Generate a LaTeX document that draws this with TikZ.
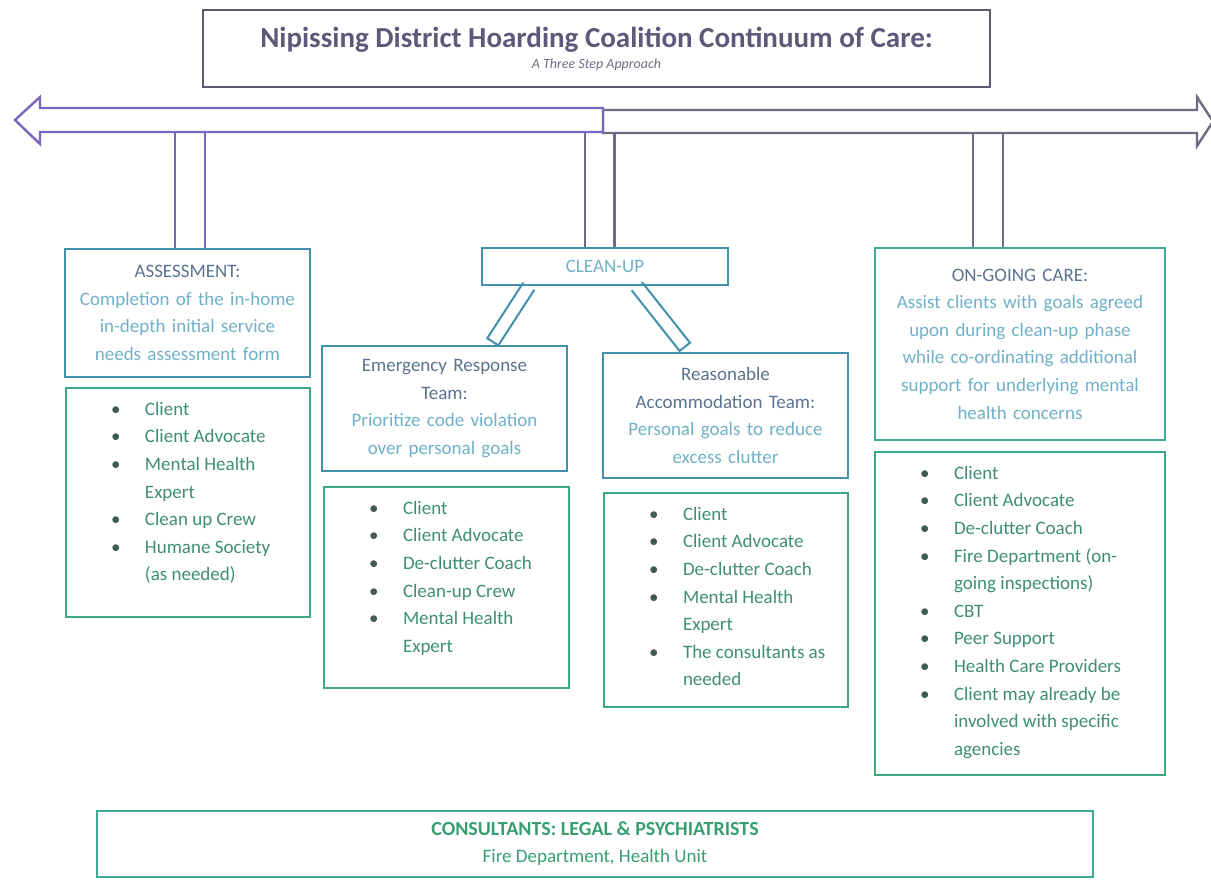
\documentclass[tikz,border=0pt]{standalone}
\usepackage{fontspec}
\setmainfont{Carlito}
\usetikzlibrary{calc, backgrounds}

\definecolor{titletext}{HTML}{5B5A78}
\definecolor{titleline}{HTML}{5E5A70}
\definecolor{subtext}{HTML}{6E6D80}
\definecolor{arrowpurple}{HTML}{7A66BE}
\definecolor{arrowgrey}{HTML}{6F6B82}
\definecolor{hdrline}{HTML}{4390AC}
\definecolor{hdrhead}{HTML}{5B7290}
\definecolor{hdrbody}{HTML}{6FB0C8}
\definecolor{careline}{HTML}{3DAA96}
\definecolor{listline}{HTML}{3DAA7E}
\definecolor{listgreen}{HTML}{3E8E72}
\definecolor{bulletcol}{HTML}{3E5A52}
\definecolor{consulttext}{HTML}{389E70}

% one bullet row of a team list
\newcommand{\bul}{\makebox[17pt][l]{\textcolor{bulletcol}{\textbullet}}}
% team list, top aligned inside a box of given width and height
\newcommand{\members}[3]{\parbox[c][#2][t]{#1}{\vspace*{4pt}\hspace*{22.5pt}%
  \begin{tabular}[t]{@{}l@{}l@{}}#3\end{tabular}}}

\tikzset{
  titlebox/.style={draw=titleline, line width=1.2pt, align=center, inner sep=0pt},
  hdrbox/.style={draw=hdrline, line width=1.2pt, align=center, inner sep=0pt,
    text=hdrbody, font=\fontsize{9.5}{13.8}\selectfont},
  listbox/.style={draw=listline, line width=1.2pt, inner sep=0pt,
    text=listgreen, font=\fontsize{9.5}{13.8}\selectfont},
  blockarrow/.style={line width=1.2pt, fill=white},
  bar/.style={line width=1.2pt, double=white, double distance=13.6pt},
  slantbar/.style={draw=hdrline, line width=1pt, fill=white, line join=miter}
}

\begin{document}
\begin{tikzpicture}[x=0.5pt, y=-0.5pt]
    \useasboundingbox (0,0) rectangle (1211,879);

    % Title
    \node[titlebox, minimum width=393.5pt, minimum height=38.5pt] (title) at (596.5,48.5)
      {\textcolor{titletext}{\fontsize{14.5}{14}\selectfont\bfseries Nipissing District Hoarding Coalition Continuum of Care:}\\[-1.5pt]
       \textcolor{subtext}{\fontsize{7}{8}\selectfont\itshape A Three Step Approach}};

    % Timeline arrows
    \draw[blockarrow, draw=arrowgrey] (603,110) -- (1197,110) -- (1197,97) -- (1213,121.5)
      -- (1197,146) -- (1197,133) -- (603,133) -- cycle;
    \draw[blockarrow, draw=arrowpurple] (603,108) -- (40,108) -- (40,97) -- (15,120)
      -- (40,144) -- (40,132) -- (603,132) -- cycle;
    \coordinate (stepA) at (190,124);
    \coordinate (stepB) at (599.5,124);
    \coordinate (stepC) at (988,124);

    % Step 1
    \node[hdrbox, text width=122.5pt, minimum height=64pt] (assess) at (187.5,313)
      {\textcolor{hdrhead}{ASSESSMENT:}\\Completion of the in-home\\in-depth initial service\\needs assessment form};
    \node[listbox] (assesslist) at (188,502.5)
      {\members{122pt}{114.5pt}{\bul & Client\\ \bul & Client Advocate\\ \bul & Mental Health\\ & Expert\\
        \bul & Clean up Crew\\ \bul & Humane Society\\ & (as needed)}};

    % Step 2
    \node[hdrbox, text width=123pt, minimum height=18.5pt] (cleanup) at (605,266.5) {CLEAN-UP};
    \node[hdrbox, text width=122.5pt, minimum height=62.5pt] (emerg) at (444.5,408.5)
      {\textcolor{hdrhead}{Emergency Response}\\\textcolor{hdrhead}{Team:}\\Prioritize code violation\\over personal goals};
    \node[listbox] (emerglist) at (446.5,587.5)
      {\members{122.5pt}{100.5pt}{\bul & Client\\ \bul & Client Advocate\\ \bul & De-clutter Coach\\
        \bul & Clean-up Crew\\ \bul & Mental Health\\ & Expert}};
    \node[hdrbox, text width=122.5pt, minimum height=62.5pt] (reason) at (725.5,415.5)
      {\textcolor{hdrhead}{Reasonable}\\\textcolor{hdrhead}{Accommodation Team:}\\Personal goals to reduce\\excess clutter};
    \node[listbox] (reasonlist) at (726,600)
      {\members{122pt}{107pt}{\bul & Client\\ \bul & Client Advocate\\ \bul & De-clutter Coach\\
        \bul & Mental Health\\ & Expert\\ \bul & The consultants as\\ & needed}};

    % Step 3
    \node[hdrbox, draw=careline, text width=145pt, minimum height=96pt] (ongoing) at (1020,344)
      {\textcolor{hdrhead}{ON-GOING CARE:}\\Assist clients with goals agreed\\upon during clean-up phase\\while co-ordinating additional\\support for underlying mental\\health concerns};
    \node[listbox] (ongoinglist) at (1020,613.5)
      {\members{145pt}{161.5pt}{\bul & Client\\ \bul & Client Advocate\\ \bul & De-clutter Coach\\
        \bul & Fire Department (on-\\ & going inspections)\\ \bul & CBT\\ \bul & Peer Support\\
        \bul & Health Care Providers\\ \bul & Client may already be\\ & involved with specific\\ & agencies}};

    % Consultants
    \node[listbox, draw=careline, text=consulttext, align=center, minimum width=498pt, minimum height=33pt] (consult) at (595,844)
      {{\fontsize{10}{13.8}\selectfont\bfseries CONSULTANTS: LEGAL \& PSYCHIATRISTS}\\[-0.3pt]Fire Department, Health Unit};

    % Bars from the timeline down to the steps
    \begin{scope}[on background layer]
        \draw[bar, draw=arrowpurple] (stepA) -- (stepA |- assess.north);
        \draw[bar, draw=arrowgrey!80!arrowpurple] (stepB) -- (stepB |- cleanup.north);
        \draw[bar, draw=arrowgrey] (stepC) -- (stepC |- ongoing.north);

        % slanted bars from clean-up to the two teams, closed at the lower end
        \coordinate (erTop) at ($(cleanup.south west)+(48,0)$);
        \coordinate (erEnd) at ($(emerg.north west)+(172,-3)$);
        \coordinate (raTop) at ($(cleanup.south west)+(156,0)$);
        \coordinate (raEnd) at ($(reason.north west)+(83,-5)$);
        \draw[slantbar] ($(erTop)!3.3pt!90:(erEnd)$) -- ($(erEnd)!3.3pt!-90:(erTop)$)
          -- ($(erEnd)!3.3pt!90:(erTop)$) -- ($(erTop)!3.3pt!-90:(erEnd)$);
        \draw[slantbar] ($(raTop)!3.3pt!90:(raEnd)$) -- ($(raEnd)!3.3pt!-90:(raTop)$)
          -- ($(raEnd)!3.3pt!90:(raTop)$) -- ($(raTop)!3.3pt!-90:(raEnd)$);
    \end{scope}
\end{tikzpicture}
\end{document}
